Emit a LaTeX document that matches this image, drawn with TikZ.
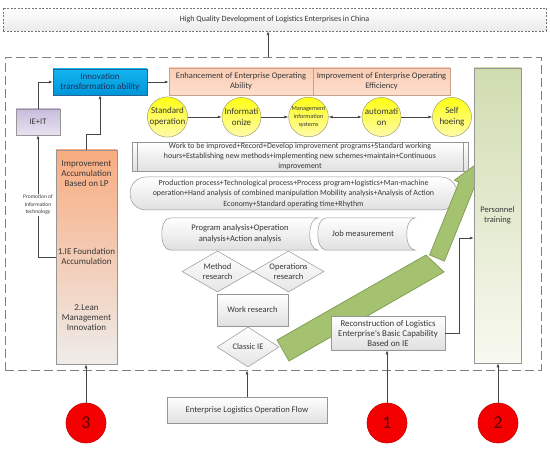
\documentclass[tikz,border=0pt]{standalone}
\usepackage{fontspec}
\setmainfont{Carlito}
\usetikzlibrary{arrows.meta,shapes.geometric}
\definecolor{linec}{RGB}{70,70,70}
\definecolor{bordc}{RGB}{150,150,150}
\definecolor{txtc}{RGB}{55,55,55}
\definecolor{blueA}{RGB}{20,180,240}
\definecolor{blueB}{RGB}{0,150,215}
\definecolor{blueD}{RGB}{40,100,150}
\definecolor{navy}{RGB}{25,50,95}
\definecolor{lavA}{RGB}{200,188,222}
\definecolor{lavB}{RGB}{232,226,240}
\definecolor{orA}{RGB}{248,172,128}
\definecolor{orM}{RGB}{249,206,178}
\definecolor{orB}{RGB}{238,236,234}
\definecolor{salA}{RGB}{251,205,180}
\definecolor{salB}{RGB}{252,222,205}
\definecolor{salD}{RGB}{200,160,140}
\definecolor{yelA}{RGB}{255,255,20}
\definecolor{yelB}{RGB}{255,250,170}
\definecolor{yelD}{RGB}{160,160,120}
\definecolor{grnA}{RGB}{208,220,176}
\definecolor{grnB}{RGB}{248,249,240}
\definecolor{arrF}{RGB}{164,194,112}
\definecolor{arrD}{RGB}{130,160,85}
\definecolor{redF}{RGB}{245,0,0}
\definecolor{redD}{RGB}{200,0,0}
\definecolor{numc}{RGB}{90,0,0}
\begin{document}
\begin{tikzpicture}[x=1pt,y=-1pt,
  conn/.style={draw=linec, line width=0.6pt, -{Latex[length=4pt,width=3pt]}},
  dconn/.style={draw=linec, line width=0.6pt, {Latex[length=4pt,width=3pt]}-{Latex[length=4pt,width=3pt]}},
  box/.style={rectangle, draw=bordc, line width=0.5pt, inner sep=1pt, align=center, text=txtc},
  gbox/.style={box, top color=white, bottom color=black!12},
  ybal/.style={circle, draw=yelD, line width=0.5pt, top color=yelA, bottom color=yelB, minimum size=39pt, inner sep=0pt, align=center, text=txtc, font=\fontsize{9}{11}\selectfont},
  rball/.style={circle, draw=redD, line width=0.6pt, fill=redF, minimum size=40pt, inner sep=0pt, text=numc, font=\fontsize{18}{18}\selectfont},
  dia/.style={diamond, draw=bordc, line width=0.5pt, top color=white, bottom color=black!10, inner sep=0pt},
  txt/.style={align=center, text=txtc, inner sep=0pt},
  garrow/.style={fill=arrF, draw=arrD, line width=0.8pt, line join=miter}
]
\useasboundingbox (0,0) rectangle (550,452);
% top box and outer frame
\node[box, top color=white, bottom color=black!8, draw=black!55, dash pattern=on 2pt off 1.5pt, minimum width=543pt, minimum height=23pt, font=\fontsize{8}{9}\selectfont] (top) at (274.5,19.5) {High Quality Development of Logistics Enterprises in China};
\node[rectangle, draw=black!50, line width=0.7pt, dash pattern=on 9pt off 4pt, minimum width=536pt, minimum height=313pt, inner sep=0pt] (outer) at (273,213.5) {};
\draw[conn] ([xshift=-5pt]outer.north) -- ([xshift=-5pt]outer.north |- top.south);

% left column
\node[box, draw=blueD, top color=blueA, bottom color=blueB, minimum width=94pt, minimum height=26pt, text=navy, font=\fontsize{9}{9.5}\selectfont] (innov) at (100,82) {Innovation\\transformation ability};
\node[box, top color=lavA, bottom color=lavB, minimum width=44pt, minimum height=26pt, font=\fontsize{8.5}{10}\selectfont] (ieit) at (38,122) {IE+IT};
\node[box, minimum width=61pt, minimum height=214pt, top color=orA, middle color=orM, bottom color=orB] (imp) at (86.5,257) {};
\node[txt, font=\fontsize{9}{10}\selectfont] (impa) at (86.5,174) {Improvement\\Accumulation\\Based on LP};
\node[txt, font=\fontsize{9}{10}\selectfont] (impb) at (86.5,256) {1.IE Foundation\\Accumulation};
\node[txt, font=\fontsize{9}{10}\selectfont] (impc) at (86.5,318) {2.Lean\\Management\\Innovation};

\draw[conn] (ieit.north) |- (innov.west);
\draw[conn] (imp.north) -- ++(0,-15) -| (innov.south);
\draw[conn] (imp.west) -| node[pos=0.715, fill=white, inner sep=1pt, align=center, text=txtc, font=\fontsize{5.5}{7.5}\selectfont] (promo) {Promotion of\\Information\\technology} (ieit.south);

% top right boxes
\node[box, draw=salD, top color=salA, bottom color=salB, minimum width=144pt, minimum height=27pt, font=\fontsize{8.5}{10}\selectfont] (enh1) at (241,81.5) {Enhancement of Enterprise Operating\\Ability};
\node[box, draw=salD, top color=salA, bottom color=salB, minimum width=137pt, minimum height=27pt, font=\fontsize{8.5}{10}\selectfont] (enh2) at (381.5,81.5) {Improvement of Enterprise Operating\\Efficiency};
\draw[conn] (innov.east) -- (innov.east -| enh1.west);

% circles
\node[ybal] (c1) at (167.5,117) {Standard\\operation};
\node[ybal] (c2) at (241.5,117) {Informati\\onize};
\node[ybal, font=\fontsize{6.2}{8}\selectfont] (c3) at (308.5,117) {Management\\information\\systems};
\node[ybal] (c4) at (381.5,117) {automati\\on};
\node[ybal] (c5) at (452,117) {Self\\hoeing};
\draw[conn] (c1) -- (c2);
\draw[conn] (c2) -- (c3);
\draw[dconn] (c3) -- (c4);
\draw[conn] (c4) -- (c5);

% work to be improved
\node[gbox, minimum width=336pt, minimum height=27pt, font=\fontsize{7.9}{10}\selectfont] (work) at (300,156.5) {Work to be improved+Record+Develop improvement programs+Standard working\\hours+Establishing new methods+implementing new schemes+maintain+Continuous\\improvement};
\draw[draw=bordc, line width=0.5pt] ([xshift=5pt]work.north west) -- ([xshift=5pt]work.south west);
\draw[draw=bordc, line width=0.5pt] ([xshift=-5pt]work.north east) -- ([xshift=-5pt]work.south east);

% production process
\node[gbox, rounded corners=16pt, minimum width=327pt, minimum height=33pt, font=\fontsize{7.9}{10.5}\selectfont] (prod) at (293.5,193.5) {Production process+Technological process+Process program+logistics+Man-machine\\operation+Hand analysis of combined manipulation Mobility analysis+Analysis of Action\\Economy+Standard operating time+Rhythm};

% stored-data shapes
\path[draw=bordc, line width=0.5pt, top color=white, bottom color=black!12] (170,218) -- (318,218) .. controls (307,218) and (307,250) .. (318,250) -- (170,250) .. controls (159,250) and (159,218) .. (170,218) -- cycle;
\node[txt, font=\fontsize{8.5}{11}\selectfont] (prog) at (240,234) {Program analysis+Operation\\analysis+Action analysis};
\path[draw=bordc, line width=0.5pt, top color=white, bottom color=black!12] (326,218) -- (415,218) .. controls (404,218) and (404,250) .. (415,250) -- (326,250) .. controls (315,250) and (315,218) .. (326,218) -- cycle;
\node[txt, font=\fontsize{8.5}{11}\selectfont] (job) at (363,234) {Job measurement};

% diamonds and work research
\node[dia, minimum width=71pt, minimum height=41pt] (mr) at (217.5,271.5) {};
\node[txt, font=\fontsize{8.5}{10}\selectfont] (mrt) at (mr.center) {Method\\research};
\node[dia, minimum width=71pt, minimum height=41pt] (or) at (288.5,271.5) {};
\node[txt, font=\fontsize{8.5}{10}\selectfont] (ort) at (or.center) {Operations\\research};
\node[gbox, minimum width=71pt, minimum height=32pt, font=\fontsize{8.5}{10}\selectfont] (wr) at (252.5,310) {Work research};
\node[dia, minimum width=62pt, minimum height=40pt] (cie) at (248,347) {};
\node[txt, font=\fontsize{8.5}{10}\selectfont] (ciet) at (cie.center) {Classic IE};

% green bent arrow (behind the reconstruction box)
\path[garrow] (277,340) -- (426,255) -- (444,272) -- (289,361) -- cycle;
\path[garrow] (429.6,254.9) -- (459,182.2) -- (454.4,180.2) -- (474.5,165.5) -- (478.4,190.4) -- (473.8,188.4) -- (444.4,261.1) -- cycle;

% right side
\node[box, top color=grnA, bottom color=grnB, minimum width=47pt, minimum height=295pt, font=\fontsize{8.5}{10}\selectfont] (pers) at (497.5,215.5) {Personnel\\training};
\node[gbox, minimum width=114pt, minimum height=34pt, font=\fontsize{8.8}{10}\selectfont] (recon) at (388,333) {Reconstruction of Logistics\\Enterprise`s Basic Capability\\Based on IE};
\draw[conn] (recon.east) -- ++(14,0) |- (pers.west |- 0,238);

% bottom
\node[gbox, minimum width=160pt, minimum height=26pt, font=\fontsize{8.6}{9}\selectfont] (elof) at (247,410) {Enterprise Logistics Operation Flow};
\draw[conn] (elof.north) -- (elof.north |- outer.south);
\node[rball] (n3) at (86,423) {3};
\node[rball] (n1) at (387,423) {1};
\node[rball] (n2) at (498,423) {2};
\draw[conn] (n3.north) -- (n3.north |- imp.south);
\draw[conn] (n1.north) -- (n1.north |- recon.south);
\draw[conn] (n2.north) -- (n2.north |- pers.south);
\end{tikzpicture}
\end{document}
